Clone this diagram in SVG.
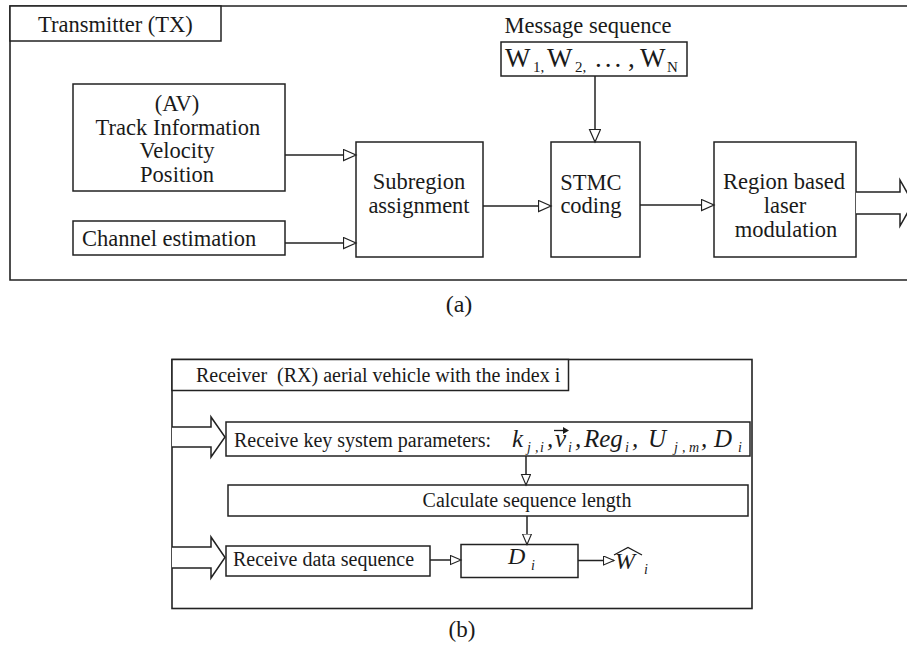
<svg xmlns="http://www.w3.org/2000/svg" width="907" height="649" viewBox="0 0 907 649">
<style>
  .frame{fill:none;stroke:#222;stroke-width:1.6}
  .box{fill:#fff;stroke:#222;stroke-width:1.5}
  .t{font-family:"Liberation Serif","Times New Roman",serif;font-size:22.5px;fill:#1a1a1a}
  .tb{font-family:"Liberation Serif","Times New Roman",serif;font-size:20px;fill:#1a1a1a}
  .m{font-family:"Liberation Serif","Times New Roman",serif;font-style:italic;font-size:25px;fill:#1a1a1a}
  .ms{font-family:"Liberation Serif","Times New Roman",serif;font-style:italic;font-size:14px;fill:#1a1a1a}
  .c{text-anchor:middle}
  .ln{fill:none;stroke:#222;stroke-width:1.5}
  .big{fill:#fff;stroke:#222;stroke-width:1.5;stroke-linejoin:miter}
</style>
<defs>
  <marker id="tri" markerUnits="userSpaceOnUse" markerWidth="16" markerHeight="14" refX="13" refY="6" orient="auto">
    <path d="M0.5,0.5 L13,6 L0.5,11.5 Z" fill="#fff" stroke="#222" stroke-width="1.2"/>
  </marker>
  <marker id="tri2" markerUnits="userSpaceOnUse" markerWidth="14" markerHeight="12" refX="11" refY="5" orient="auto">
    <path d="M0.5,0.5 L11,5 L0.5,9.5 Z" fill="#fff" stroke="#222" stroke-width="1.1"/>
  </marker>
</defs>

<!-- Panel (a) -->
<g id="tx-frame">
  <path class="frame" d="M907,6 H10 V280 H907"/>
  <rect class="box" x="10" y="6" width="211" height="35"/>
  <text class="t" x="38" y="32">Transmitter (TX)</text>
</g>

<g id="av-info">
  <rect class="box" x="73" y="84" width="212" height="107"/>
  <text class="t c" x="177" y="111">(AV)</text>
  <text class="t c" x="178" y="134.5">Track Information</text>
  <text class="t c" x="177" y="158">Velocity</text>
  <text class="t c" x="177" y="181.5">Position</text>
</g>

<g id="channel-est">
  <rect class="box" x="73" y="221" width="212" height="34"/>
  <text class="t" x="82" y="245.5">Channel estimation</text>
</g>

<g id="subregion">
  <rect class="box" x="356" y="142" width="127" height="115"/>
  <text class="t c" x="419" y="189">Subregion</text>
  <text class="t c" x="419" y="213">assignment</text>
</g>

<g id="stmc">
  <rect class="box" x="551" y="142" width="89" height="115"/>
  <text class="t c" x="591" y="190">STMC</text>
  <text class="t c" x="591" y="213">coding</text>
</g>

<g id="laser-mod">
  <rect class="box" x="714" y="142" width="142" height="115"/>
  <text class="t c" x="784" y="189">Region based</text>
  <text class="t c" x="785" y="213">laser</text>
  <text class="t c" x="786" y="237">modulation</text>
</g>

<g id="message">
  <text class="t c" x="588" y="33">Message sequence</text>
  <rect class="box" x="501" y="42" width="186" height="34"/>
  <text class="t" style="font-size:27px" x="505" y="67">W</text>
  <text class="t" style="font-size:15px" x="533" y="72">1,</text>
  <text class="t" style="font-size:27px" x="547" y="67">W</text>
  <text class="t" style="font-size:15px" x="575" y="72">2,</text>
  <text class="t" style="font-size:27px;letter-spacing:3px" x="595" y="67">...</text>
  <text class="t" style="font-size:27px" x="628" y="67">,</text>
  <text class="t" style="font-size:27px" x="640" y="67">W</text>
  <text class="t" style="font-size:15px" x="667" y="72">N</text>
</g>

<text class="t c" style="font-size:24px" x="459" y="312">(a)</text>

<!-- Panel (b) -->
<g id="rx-frame">
  <rect class="frame" x="172" y="359.5" width="580" height="249"/>
  <rect class="box" x="172" y="359.5" width="396.5" height="31"/>
  <text class="tb" xml:space="preserve" x="196" y="382">Receiver  (RX) aerial vehicle with the index i</text>
</g>

<g id="receive-key">
  <rect class="box" x="226" y="422" width="524" height="34"/>
  <text class="tb" x="234" y="447">Receive key system parameters:</text>
  <text class="m" x="512" y="447">k</text>
  <text class="ms" x="527" y="452">j</text>
  <text class="ms" x="535" y="452">,</text>
  <text class="ms" x="540" y="452">i</text>
  <text class="m" x="547" y="447">,</text>
  <text class="m" x="555" y="447">v</text>
  <path d="M554,430.5 H565" stroke="#1a1a1a" stroke-width="1.3" fill="none"/>
  <path d="M563,427 L569,430.5 L563,434 Z" fill="#1a1a1a"/>
  <text class="ms" x="568" y="452">i</text>
  <text class="m" x="575" y="447">,</text>
  <text class="m" x="584" y="447">Reg</text>
  <text class="ms" x="625" y="452">i</text>
  <text class="m" x="632" y="447">,</text>
  <text class="m" x="648" y="447">U</text>
  <text class="ms" x="674" y="452">j</text>
  <text class="ms" x="682" y="452">,</text>
  <text class="ms" x="689" y="452">m</text>
  <text class="m" x="701" y="447">,</text>
  <text class="m" x="714" y="447">D</text>
  <text class="ms" x="738" y="452">i</text>
</g>

<g id="calc-length">
  <rect class="box" x="228" y="485" width="520" height="31"/>
  <text class="tb c" x="527" y="507">Calculate sequence length</text>
</g>

<g id="receive-data">
  <rect class="box" x="226" y="546" width="204" height="30"/>
  <text class="tb" x="233" y="566">Receive data sequence</text>
</g>

<g id="decoder">
  <rect class="box" x="461" y="544.5" width="117" height="33"/>
  <text class="m" style="font-size:24px" x="508" y="564">D</text>
  <text class="ms" x="531" y="570">i</text>
</g>

<g id="output">
  <text class="m" style="font-size:24px" x="615" y="569">W</text>
  <path d="M614,555 L628,547.5 L642,555" fill="none" stroke="#1a1a1a" stroke-width="1.2"/>
  <text class="ms" x="644" y="574">i</text>
</g>

<text class="tb c" style="font-size:23px" x="462" y="637">(b)</text>

<g id="connectors">
  <path class="ln" d="M285,155 H356" marker-end="url(#tri)"/>
  <path class="ln" d="M285,243 H356" marker-end="url(#tri)"/>
  <path class="ln" d="M483,206 H551" marker-end="url(#tri)"/>
  <path class="ln" d="M640,205 H714" marker-end="url(#tri)"/>
  <path class="ln" d="M595,76 V142" marker-end="url(#tri)"/>
  <path class="big" d="M856,192 H900 V180 L913,203 L900,226 V214 H856"/>
  <path class="big" d="M172,427 H211 V417 L225,437 L211,457 V447 H172"/>
  <path class="big" d="M172,547 H211 V537 L225,557.5 L211,578 V568 H172"/>
  <path class="ln" d="M526,456 V485" marker-end="url(#tri2)"/>
  <path class="ln" d="M527,516 V544.5" marker-end="url(#tri2)"/>
  <path class="ln" d="M430,560 H461" marker-end="url(#tri2)"/>
  <path class="ln" d="M578,560.5 H614" marker-end="url(#tri2)"/>
</g>
</svg>
